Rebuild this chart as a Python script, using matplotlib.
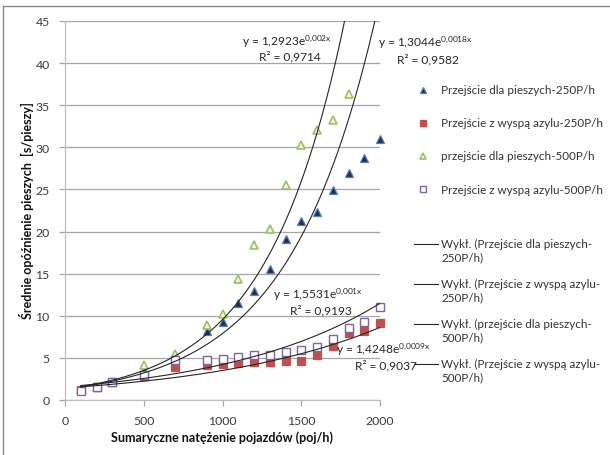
import numpy as np
import matplotlib
matplotlib.use("Agg")
import matplotlib.pyplot as plt
from matplotlib.lines import Line2D

plt.rcParams['font.family'] = ['Lato', 'DejaVu Sans']
plt.rcParams['mathtext.fontset'] = 'custom'
plt.rcParams['mathtext.rm'] = 'Lato'
plt.rcParams['mathtext.it'] = 'Lato:italic'
plt.rcParams['mathtext.bf'] = 'Lato:bold'

# ---- data ----
x_full = [100, 200, 300, 500, 700, 900, 1000, 1100, 1200, 1300, 1400, 1500, 1600, 1700, 1800, 1900, 2000]
x_green = [100, 200, 300, 500, 700, 900, 1000, 1100, 1200, 1300, 1400, 1500, 1600, 1700, 1800]

blue_250 = [1.3, 1.6, 2.1, 3.5, 4.7, 8.2, 9.3, 11.5, 13.0, 15.6, 19.1, 21.2, 22.3, 24.9, 27.0, 28.7, 31.0]
red_250 = [1.2, 1.5, 2.1, 2.8, 3.9, 4.1, 4.3, 4.4, 4.5, 4.5, 4.6, 4.6, 5.3, 6.4, 8.0, 8.2, 9.1]
green_500 = [1.2, 1.6, 2.1, 4.2, 5.5, 8.9, 10.2, 14.4, 18.4, 20.3, 25.5, 30.3, 32.1, 33.3, 36.3]
purple_500 = [1.1, 1.5, 2.1, 3.0, 4.7, 4.7, 4.9, 5.1, 5.3, 5.3, 5.7, 5.9, 6.3, 7.3, 8.5, 9.3, 11.1]

# trend line coefficients y = a * exp(b x)  (blue, red, green, purple)
trend_a = [1.3044, 1.4248, 1.2923, 1.5531]
trend_b = [0.0018, 0.0009, 0.002, 0.001]
trend_r2 = ["0,9582", "0,9037", "0,9714", "0,9193"]
trend_a_txt = ["1,3044", "1,4248", "1,2923", "1,5531"]
trend_b_txt = ["0{,}0018x", "0{,}0009x", "0{,}002x", "0{,}001x"]

series_labels = ["Przejście dla pieszych-250P/h", "Przejście z wyspą azylu-250P/h",
                 "przejście dla pieszych-500P/h", "Przejście z wyspą azylu-500P/h"]
trend_labels = ["Wykł. (Przejście dla pieszych-\n250P/h)", "Wykł. (Przejście z wyspą azylu-\n250P/h)",
                "Wykł. (przejście dla pieszych-\n500P/h)", "Wykł. (Przejście z wyspą azylu-\n500P/h)"]

xlabel = "Sumaryczne natężenie pojazdów (poj/h)"
ylabel = "Średnie opóźnienie pieszych  [s/pieszy]"
xticks = [0, 500, 1000, 1500, 2000]
yticks = [0, 5, 10, 15, 20, 25, 30, 35, 40, 45]

# ---- figure ----
W, H = 610, 456
fig = plt.figure(figsize=(W / 100, H / 100), dpi=100)

def fx(px):
    return px / W

def fy(py):
    return 1 - py / H

ax = fig.add_axes([fx(65), fy(401), fx(380) - fx(65), fy(22) - fy(401)])
ax.set_xlim(0, 2000)
ax.set_ylim(0, 45)
ax.set_xticks(xticks)
ax.set_yticks(yticks)
ax.grid(axis='y', color='#a6a6a6', linewidth=0.9)
ax.set_axisbelow(True)
for s in ['top', 'right']:
    ax.spines[s].set_visible(False)
for s in ['left', 'bottom']:
    ax.spines[s].set_color('#bfbfbf')
    ax.spines[s].set_linewidth(0.9)
ax.tick_params(axis='both', colors='#a6a6a6', labelcolor='#3a3a3a', labelsize=8.8,
               length=4, width=0.9, direction='out')
ax.tick_params(axis='y', pad=7)
ax.tick_params(axis='x', pad=7)

ms = 5.5
styles = [
    dict(marker='^', mfc='#1f2f55', mec='#4f81bd', ms=ms, mew=0.9),
    dict(marker='s', mfc='#c0504d', mec='#c0504d', ms=ms, mew=0.9),
    dict(marker='^', mfc='#eef4e2', mec='#9bbb59', ms=ms, mew=1.1),
    dict(marker='s', mfc='white', mec='#8064a2', ms=ms, mew=1.0),
]
xs = [x_full, x_full, x_green, x_full]
ys = [blue_250, red_250, green_500, purple_500]

for i in range(4):
    ax.plot(xs[i], ys[i], linestyle='none', zorder=3 + i, clip_on=False, **styles[i])

xt = np.linspace(100, 2000, 400)
for i in range(4):
    ax.plot(xt, trend_a[i] * np.exp(trend_b[i] * xt), color='#262626', linewidth=0.8, zorder=8)

# equation labels (pixel positions: center x, y of eq line, y of R2 line)
eq_pos = [(425, 43, 60), (383, 350, 366), (287, 42, 57), (318, 295, 311)]
for i in range(4):
    cx, ey, ry = eq_pos[i]
    fig.text(fx(cx), fy(ey), "y = " + trend_a_txt[i] + r"e$^{\mathrm{" + trend_b_txt[i] + "}}$",
             ha='center', va='center', fontsize=8.6, color='#262626')
    fig.text(fx(cx + 3), fy(ry), "R² = " + trend_r2[i], ha='center', va='center',
             fontsize=8.6, color='#262626')

# axis labels
fig.text(fx(222), fy(438), xlabel, ha='center', va='center', fontsize=9, fontweight='bold',
         color='#111111')
fig.text(fx(27), fy(211), ylabel, ha='center', va='center', rotation=90, fontsize=9,
         fontweight='bold', color='#111111')

# legend
leg_y = [91, 124, 157, 190]
for i in range(4):
    st = dict(styles[i])
    st['ms'] = 5
    fig.add_artist(Line2D([fx(423)], [fy(leg_y[i])], linestyle='none', **st))
    fig.text(fx(441), fy(leg_y[i]), series_labels[i], ha='left', va='center', fontsize=8.4,
             color='#333333')

tl_y = [245, 285, 325, 365]
for i in range(4):
    fig.add_artist(Line2D([fx(414), fx(438)], [fy(tl_y[i]), fy(tl_y[i])], color='#262626',
                          linewidth=0.8))
    fig.text(fx(441), fy(tl_y[i] - 6), trend_labels[i], ha='left', va='top', fontsize=8.4,
             color='#333333', linespacing=1.3)

# outer border (top and left visible)
fig.add_artist(Line2D([fx(3), fx(610)], [fy(7), fy(7)], color='#8c8c8c', linewidth=1.0))
fig.add_artist(Line2D([fx(3), fx(3)], [fy(7), fy(456)], color='#8c8c8c', linewidth=1.0))

fig.savefig("out.png", dpi=100)
